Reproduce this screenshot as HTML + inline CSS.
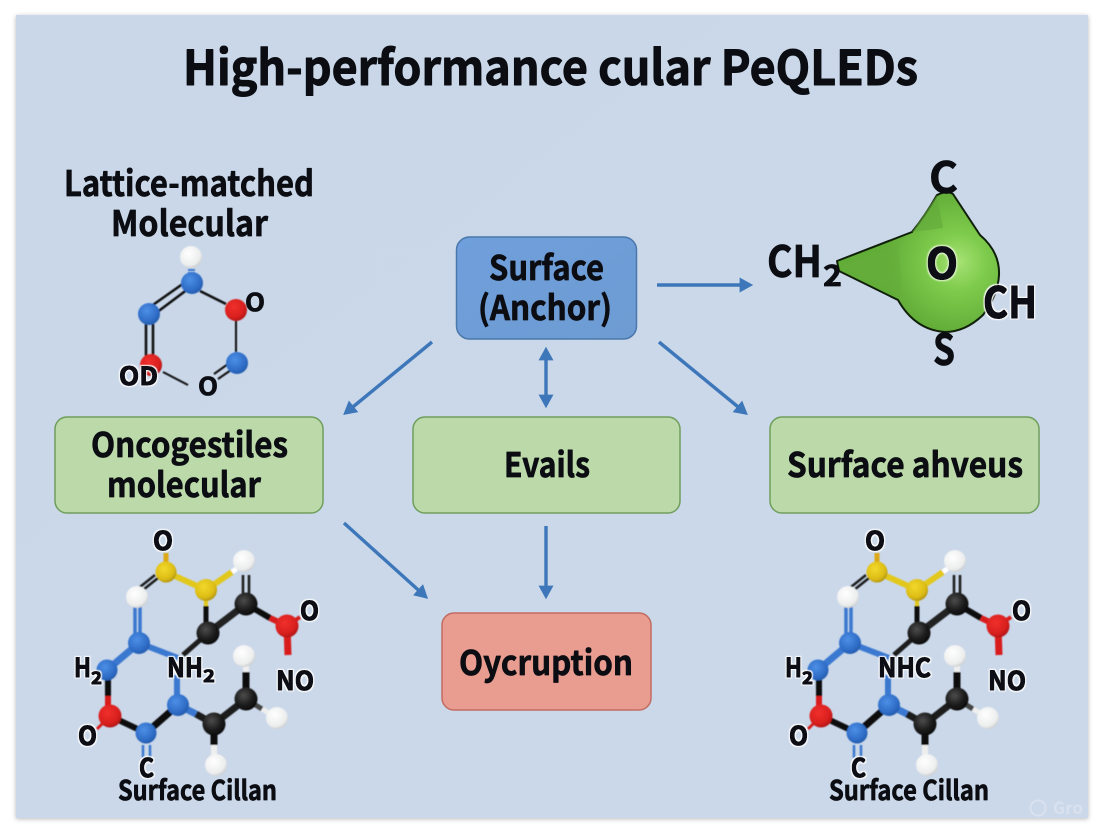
<!DOCTYPE html>
<html><head><meta charset="utf-8"><style>
html,body{margin:0;padding:0;background:#fff}
svg{display:block}
text{font-family:"Noto Sans CJK JP","Liberation Sans",sans-serif;font-weight:700;fill:#0b0d12;stroke:#0b0d12;stroke-width:.7px;stroke-linejoin:round}
.h{stroke:none;filter:url(#halo)}
.gh{stroke:none;filter:url(#halog)}
</style></head><body>
<svg width="1104" height="832" viewBox="0 0 1104 832" xmlns="http://www.w3.org/2000/svg">
<defs>
<filter id="s" x="-3%" y="-3%" width="106%" height="106%"><feDropShadow dx="0" dy="1" stdDeviation="2.5" flood-color="#000" flood-opacity=".28"/></filter>
<filter id="b"><feGaussianBlur stdDeviation=".45"/></filter>
<filter id="halo" x="-30%" y="-30%" width="160%" height="160%">
<feMorphology in="SourceAlpha" operator="dilate" radius="1.6" result="d"/>
<feGaussianBlur in="d" stdDeviation=".5" result="db"/>
<feFlood flood-color="#fff"/><feComposite in2="db" operator="in" result="w"/>
<feMorphology in="SourceAlpha" operator="dilate" radius=".4" result="t"/>
<feFlood flood-color="#0b0d12"/><feComposite in2="t" operator="in" result="k"/>
<feMerge><feMergeNode in="w"/><feMergeNode in="k"/></feMerge>
</filter>
<filter id="halog" x="-30%" y="-30%" width="160%" height="160%">
<feMorphology in="SourceAlpha" operator="dilate" radius="1.6" result="d"/>
<feGaussianBlur in="d" stdDeviation=".7" result="db"/>
<feFlood flood-color="#e2f5d0"/><feComposite in2="db" operator="in" result="w"/>
<feMorphology in="SourceAlpha" operator="dilate" radius=".5" result="t"/>
<feFlood flood-color="#0b0d12"/><feComposite in2="t" operator="in" result="k"/>
<feMerge><feMergeNode in="w"/><feMergeNode in="k"/></feMerge>
</filter>
<linearGradient id="bg" x1="0" y1="0" x2="1" y2="1"><stop offset="0" stop-color="#c9d7e8"/><stop offset="1" stop-color="#cbd8ea"/></linearGradient>
<radialGradient id="bl" cx=".4" cy=".35" r=".7"><stop offset="0" stop-color="#4d8fe6"/><stop offset=".7" stop-color="#2e6cc6"/><stop offset="1" stop-color="#2358a8"/></radialGradient>
<radialGradient id="rd" cx=".4" cy=".35" r=".7"><stop offset="0" stop-color="#f0302c"/><stop offset=".7" stop-color="#d81f1e"/><stop offset="1" stop-color="#a81414"/></radialGradient>
<radialGradient id="wh" cx=".4" cy=".35" r=".75"><stop offset="0" stop-color="#fff"/><stop offset=".7" stop-color="#eceded"/><stop offset="1" stop-color="#b9bdbf"/></radialGradient>
<radialGradient id="ye" cx=".4" cy=".35" r=".7"><stop offset="0" stop-color="#f2d92c"/><stop offset=".7" stop-color="#dcbc14"/><stop offset="1" stop-color="#a98e10"/></radialGradient>
<radialGradient id="bk" cx=".4" cy=".35" r=".7"><stop offset="0" stop-color="#4c4c4c"/><stop offset=".6" stop-color="#1c1c1c"/><stop offset="1" stop-color="#080808"/></radialGradient>
<radialGradient id="gr" gradientUnits="userSpaceOnUse" cx="958" cy="262" r="72"><stop offset="0" stop-color="#a6e274"/><stop offset=".4" stop-color="#7ecb4c"/><stop offset="1" stop-color="#62ac38"/></radialGradient>
<linearGradient id="blbox" x1="0" y1="0" x2="1" y2="1"><stop offset="0" stop-color="#6f9fdc"/><stop offset="1" stop-color="#6e9bd2"/></linearGradient>
<marker id="a" markerWidth="5" markerHeight="5" refX="1" refY="2.5" orient="auto-start-reverse" markerUnits="strokeWidth"><path d="M0 .3L4 2.5L0 4.7Z" fill="#3d77ba"/></marker>
<g id="mol" filter="url(#b)">
<g fill="none" stroke-linecap="butt">
<path d="M166 553V572" stroke="#dca818" stroke-width="5"/>
<path d="M166 572L206 590L232 572" stroke="#e2c81e" stroke-width="6"/>
<path d="M232 572L244 563" stroke="#fff" stroke-width="5"/>
<path d="M158 578L143 590M155 575L140 587" stroke="#1c1c1c" stroke-width="2.5"/>
<path d="M206 590V610" stroke="#e2c81e" stroke-width="4"/>
<path d="M206 606V633" stroke="#111" stroke-width="5"/>
<path d="M208 633L246 604" stroke="#222" stroke-width="7"/>
<path d="M243 575V600M249 575V600" stroke="#1c1c1c" stroke-width="2.5"/>
<path d="M246 604L270 618" stroke="#111" stroke-width="6"/>
<path d="M270 618L287 626" stroke="#d81f1e" stroke-width="6"/>
<path d="M287 626L300 617" stroke="#d81f1e" stroke-width="4"/>
<path d="M287 626L288 655" stroke="#d81f1e" stroke-width="7"/>
<path d="M208 633L183 655" stroke="#1c1c1c" stroke-width="5"/>
<path d="M135 605V643M140 605V643" stroke="#3a78d0" stroke-width="3.5"/>
<path d="M139 643L107 670" stroke="#3a78d0" stroke-width="7"/>
<path d="M139 643L178 658" stroke="#3a78d0" stroke-width="6"/>
<path d="M177 675V705" stroke="#3a78d0" stroke-width="6"/>
<path d="M108 678V696" stroke="#111" stroke-width="6"/>
<path d="M108 696V716" stroke="#d81f1e" stroke-width="6"/>
<path d="M110 716L97 729" stroke="#d81f1e" stroke-width="3"/>
<path d="M110 716L146 733" stroke="#111" stroke-width="6"/>
<path d="M146 733L178 705" stroke="#111" stroke-width="7"/>
<path d="M143 745V758M150 745V758" stroke="#3a78d0" stroke-width="2.5"/>
<path d="M178 705L196 714" stroke="#3a78d0" stroke-width="7"/>
<path d="M196 714L214 724L246 699" stroke="#1c1c1c" stroke-width="7"/>
<path d="M246 699V672" stroke="#111" stroke-width="7"/>
<path d="M246 672V660" stroke="#eee" stroke-width="6"/>
<path d="M246 699L262 709" stroke="#444" stroke-width="5"/>
<path d="M262 709L277 718" stroke="#eee" stroke-width="5"/>
<path d="M214 724V745" stroke="#111" stroke-width="7"/>
<path d="M214 745V760" stroke="#eee" stroke-width="6"/>
</g>
<circle cx="166" cy="572" r="10.5" fill="url(#ye)"/><circle cx="206" cy="590" r="11" fill="url(#ye)"/>
<circle cx="244" cy="561" r="11" fill="url(#wh)"/><circle cx="137" cy="597" r="11" fill="url(#wh)"/>
<circle cx="139" cy="643" r="11" fill="url(#bl)"/><circle cx="107" cy="670" r="10.5" fill="url(#bl)"/>
<circle cx="110" cy="716" r="11.5" fill="url(#rd)"/><circle cx="146" cy="733" r="10.5" fill="url(#bl)"/>
<circle cx="178" cy="705" r="11" fill="url(#bl)"/><circle cx="208" cy="633" r="11.5" fill="url(#bk)"/>
<circle cx="246" cy="604" r="11.5" fill="url(#bk)"/><circle cx="287" cy="626" r="11.5" fill="url(#rd)"/>
<circle cx="214" cy="724" r="11.5" fill="url(#bk)"/><circle cx="246" cy="699" r="11.5" fill="url(#bk)"/>
<circle cx="244" cy="656" r="11" fill="url(#wh)"/><circle cx="277" cy="718" r="11" fill="url(#wh)"/>
<circle cx="216" cy="765" r="11" fill="url(#wh)"/>
</g>
</defs>

<rect x="16" y="15" width="1072" height="803" fill="url(#bg)" filter="url(#s)"/>

<text x="183" y="85" font-size="48" textLength="735" lengthAdjust="spacingAndGlyphs" style="stroke-width:1px">High-performance cular PeQLEDs</text>

<text x="64" y="196" font-size="35" textLength="250" lengthAdjust="spacingAndGlyphs">Lattice-matched</text>
<text x="111" y="236" font-size="35" textLength="157" lengthAdjust="spacingAndGlyphs">Molecular</text>

<!-- small molecule -->
<g filter="url(#b)" fill="none">
<path d="M188 270H195M188 273H195" stroke="#3a78d0" stroke-width="2"/>
<path d="M184 283L150 307M188 289L156 313" stroke="#0c0c0c" stroke-width="2.5"/>
<path d="M200 291L226 304" stroke="#111" stroke-width="2.5"/>
<path d="M146 324V358M153 324V358" stroke="#0c0c0c" stroke-width="2.5"/>
<path d="M236 320V352" stroke="#111" stroke-width="2"/>
<path d="M163 372L188 385" stroke="#111" stroke-width="2"/>
<path d="M214 374L228 364M218 379L231 370" stroke="#111" stroke-width="2"/>
<circle cx="191" cy="257" r="11" fill="url(#wh)"/>
<circle cx="192" cy="283" r="11" fill="url(#bl)"/>
<circle cx="149" cy="314" r="11" fill="url(#bl)"/>
<circle cx="236" cy="310" r="11" fill="url(#rd)"/>
<circle cx="151" cy="365" r="11" fill="url(#rd)"/>
<circle cx="237" cy="363" r="11" fill="url(#bl)"/>
</g>
<text x="245" y="311" font-size="24" textLength="20" lengthAdjust="spacingAndGlyphs">O</text>
<text x="119" y="385" font-size="25" textLength="39" lengthAdjust="spacingAndGlyphs" class="h">OD</text>
<text x="198" y="395" font-size="24" textLength="20" lengthAdjust="spacingAndGlyphs">O</text>

<!-- green shape -->
<path d="M837 261L912 232Q925 216 937 195Q947 190 953 194L980 235Q1000 252 999 275Q998 295 983 315Q965 332 945 332Q915 330 898 300L839 271Z" fill="url(#gr)" stroke="#10200a" stroke-width="2" stroke-linejoin="round"/>
<path d="M840 266L898 245L902 295Z" fill="#66ad3c" opacity=".6"/>
<path d="M912 232L937 195L943 228Z" fill="#62a93a" opacity=".6"/>
<text x="929" y="193" font-size="43" textLength="29" lengthAdjust="spacingAndGlyphs">C</text>
<text x="767" y="277" font-size="43" textLength="55" lengthAdjust="spacingAndGlyphs">CH</text>
<text x="823" y="286" font-size="29" textLength="19" lengthAdjust="spacingAndGlyphs">2</text>
<text x="926" y="279" font-size="43" textLength="32" lengthAdjust="spacingAndGlyphs" class="gh">O</text>
<text x="983" y="318" font-size="43" textLength="54" lengthAdjust="spacingAndGlyphs" class="h">CH</text>
<text x="933" y="365" font-size="43" textLength="22" lengthAdjust="spacingAndGlyphs">S</text>

<!-- boxes -->
<rect x="456.5" y="237" width="180" height="102" rx="13" fill="url(#blbox)" stroke="#4a78ab" stroke-width="1.5"/>
<text x="489" y="280" font-size="34" textLength="115" lengthAdjust="spacingAndGlyphs">Surface</text>
<text x="478" y="320" font-size="34" textLength="134" lengthAdjust="spacingAndGlyphs">(Anchor)</text>

<rect x="55" y="417" width="268" height="96" rx="12" fill="#bcdaa9" stroke="#6f9e5c" stroke-width="1.5"/>
<text x="91" y="457" font-size="34" textLength="197" lengthAdjust="spacingAndGlyphs">Oncogestiles</text>
<text x="107" y="497" font-size="34" textLength="154" lengthAdjust="spacingAndGlyphs">molecular</text>

<rect x="413" y="417" width="267" height="96" rx="12" fill="#bcdaa9" stroke="#6f9e5c" stroke-width="1.5"/>
<text x="504" y="477" font-size="34" textLength="86" lengthAdjust="spacingAndGlyphs">Evails</text>

<rect x="770" y="417" width="269" height="96" rx="12" fill="#bcdaa9" stroke="#6f9e5c" stroke-width="1.5"/>
<text x="787" y="477" font-size="34" textLength="236" lengthAdjust="spacingAndGlyphs">Surface ahveus</text>

<rect x="442" y="613" width="209" height="97" rx="12" fill="#e99c90" stroke="#c26c62" stroke-width="1.5"/>
<text x="459" y="675" font-size="34" textLength="174" lengthAdjust="spacingAndGlyphs">Oycruption</text>

<!-- arrows -->
<g stroke="#3d77ba" stroke-width="3.4" fill="none">
<path d="M657 285H743" marker-end="url(#a)"/>
<path d="M432 342L351 408.5" marker-end="url(#a)"/>
<path d="M659 342L740 408.5" marker-end="url(#a)"/>
<path d="M546 357V398" marker-start="url(#a)" marker-end="url(#a)"/>
<path d="M344 523L420.5 592" marker-end="url(#a)"/>
<path d="M546 526V589" marker-end="url(#a)"/>
</g>

<!-- large molecules -->
<use href="#mol"/>
<use href="#mol" transform="translate(711,0)"/>

<text class="h" x="153" y="550" font-size="26" textLength="20" lengthAdjust="spacingAndGlyphs">O</text>
<text class="h" x="300" y="620" font-size="26" textLength="19" lengthAdjust="spacingAndGlyphs">O</text>
<text class="h" x="276" y="690" font-size="26" textLength="38" lengthAdjust="spacingAndGlyphs">NO</text>
<text class="h" x="74" y="677" font-size="26" textLength="17" lengthAdjust="spacingAndGlyphs">H</text>
<text class="h" x="91" y="684" font-size="17" textLength="11" lengthAdjust="spacingAndGlyphs">2</text>
<text class="h" x="167" y="677" font-size="26" textLength="36" lengthAdjust="spacingAndGlyphs">NH</text>
<text class="h" x="203" y="682" font-size="17" textLength="12" lengthAdjust="spacingAndGlyphs">2</text>
<text class="h" x="78" y="745" font-size="26" textLength="19" lengthAdjust="spacingAndGlyphs">O</text>
<text class="h" x="139" y="777" font-size="26" textLength="15" lengthAdjust="spacingAndGlyphs">C</text>
<text x="118" y="800" font-size="27" textLength="159" lengthAdjust="spacingAndGlyphs">Surface Cillan</text>

<text class="h" x="865" y="550" font-size="26" textLength="20" lengthAdjust="spacingAndGlyphs">O</text>
<text class="h" x="1012" y="620" font-size="26" textLength="19" lengthAdjust="spacingAndGlyphs">O</text>
<text class="h" x="988" y="690" font-size="26" textLength="38" lengthAdjust="spacingAndGlyphs">NO</text>
<text class="h" x="785" y="677" font-size="26" textLength="17" lengthAdjust="spacingAndGlyphs">H</text>
<text class="h" x="802" y="684" font-size="17" textLength="11" lengthAdjust="spacingAndGlyphs">2</text>
<text class="h" x="878" y="677" font-size="26" textLength="53" lengthAdjust="spacingAndGlyphs">NHC</text>
<text class="h" x="789" y="745" font-size="26" textLength="19" lengthAdjust="spacingAndGlyphs">O</text>
<text class="h" x="851" y="777" font-size="26" textLength="15" lengthAdjust="spacingAndGlyphs">C</text>
<text x="829" y="800" font-size="27" textLength="160" lengthAdjust="spacingAndGlyphs">Surface Cillan</text>

<!-- watermark -->
<circle cx="1038" cy="808" r="7.5" fill="none" stroke="#dfe6f0" stroke-width="2" opacity=".7"/>
<text x="1053" y="814" font-size="17" style="fill:#dfe6f0;stroke:none" opacity=".7">Gro</text>
</svg>
</body></html>
